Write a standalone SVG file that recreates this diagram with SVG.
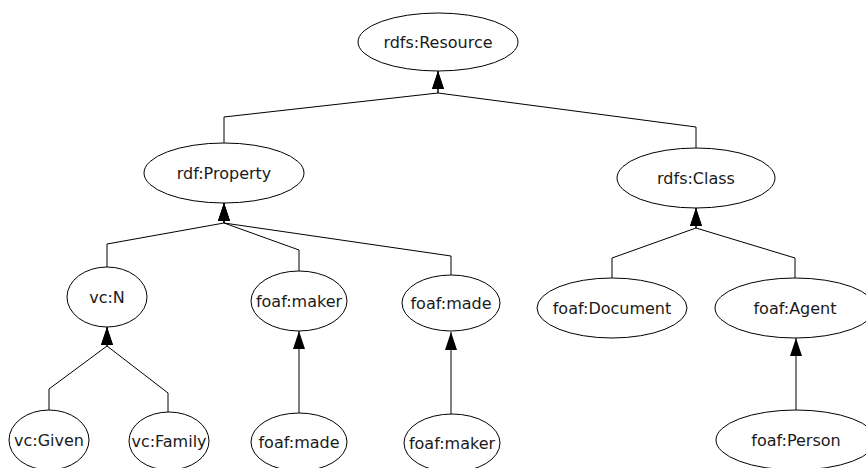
<svg xmlns="http://www.w3.org/2000/svg" width="866" height="468" viewBox="0 0 866 468">
  <style>
    .node ellipse { fill: #ffffff; stroke: #000000; stroke-width: 1; }
    .node text { font-family: "DejaVu Sans", "Liberation Sans", sans-serif; font-size: 16px; fill: #1a1a1a; text-anchor: middle; }
    .edge { fill: none; stroke: #000000; stroke-width: 1; marker-end: url(#arrow); }
  </style>
  <defs>
    <marker id="arrow" viewBox="0 0 18 12" refX="18" refY="6" markerWidth="18" markerHeight="12" markerUnits="userSpaceOnUse" orient="auto">
      <path d="M0,0 L18,6 L0,12 z" fill="#000000"/>
    </marker>
  </defs>
  <rect width="866" height="468" fill="#ffffff"/>

  <!-- subclass / subproperty links -->
  <g id="connectors">
    <polyline class="edge" points="224,143 224,117 438,93 438,71"/>
    <polyline class="edge" points="696,148 696,127 438,93 438,71"/>
    <polyline class="edge" points="107,267 107,244 224,223 224,203"/>
    <polyline class="edge" points="299,272 299,250 224,223 224,203"/>
    <polyline class="edge" points="451,275 451,256 224,223 224,203"/>
    <polyline class="edge" points="612,278 612,258 696,228 696,208"/>
    <polyline class="edge" points="795,278 795,258 696,228 696,208"/>
    <polyline class="edge" points="49,410 49,389 107,346 107,327"/>
    <polyline class="edge" points="168,412 168,393 107,346 107,327"/>
    <polyline class="edge" points="299,413 299,331"/>
    <polyline class="edge" points="451,414 451,332"/>
    <polyline class="edge" points="796,410 796,338"/>
  </g>

  <g id="rdfs-resource" class="node">
    <ellipse cx="438" cy="42" rx="80" ry="29"/>
    <text x="438" y="48">rdfs:Resource</text>
  </g>
  <g id="rdf-property" class="node">
    <ellipse cx="224" cy="173" rx="80" ry="30"/>
    <text x="224" y="179">rdf:Property</text>
  </g>
  <g id="rdfs-class" class="node">
    <ellipse cx="696" cy="178" rx="79" ry="30"/>
    <text x="696" y="184">rdfs:Class</text>
  </g>
  <g id="vc-n" class="node">
    <ellipse cx="107" cy="297" rx="40" ry="30"/>
    <text x="107" y="303">vc:N</text>
  </g>
  <g id="foaf-maker-1" class="node">
    <ellipse cx="299" cy="301" rx="48" ry="30"/>
    <text x="299" y="307">foaf:maker</text>
  </g>
  <g id="foaf-made-1" class="node">
    <ellipse cx="451" cy="303" rx="49" ry="28"/>
    <text x="451" y="309">foaf:made</text>
  </g>
  <g id="foaf-document" class="node">
    <ellipse cx="612" cy="308" rx="75" ry="30"/>
    <text x="612" y="314">foaf:Document</text>
  </g>
  <g id="foaf-agent" class="node">
    <ellipse cx="795" cy="308" rx="80" ry="30"/>
    <text x="795" y="314">foaf:Agent</text>
  </g>
  <g id="vc-given" class="node">
    <ellipse cx="49" cy="440" rx="40" ry="30"/>
    <text x="49" y="446">vc:Given</text>
  </g>
  <g id="vc-family" class="node">
    <ellipse cx="169" cy="441" rx="40" ry="29"/>
    <text x="169" y="447">vc:Family</text>
  </g>
  <g id="foaf-made-2" class="node">
    <ellipse cx="299" cy="442" rx="48" ry="29"/>
    <text x="299" y="448">foaf:made</text>
  </g>
  <g id="foaf-maker-2" class="node">
    <ellipse cx="452" cy="443" rx="48" ry="29"/>
    <text x="452" y="449">foaf:maker</text>
  </g>
  <g id="foaf-person" class="node">
    <ellipse cx="796" cy="440" rx="80" ry="30"/>
    <text x="796" y="446">foaf:Person</text>
  </g>
</svg>
